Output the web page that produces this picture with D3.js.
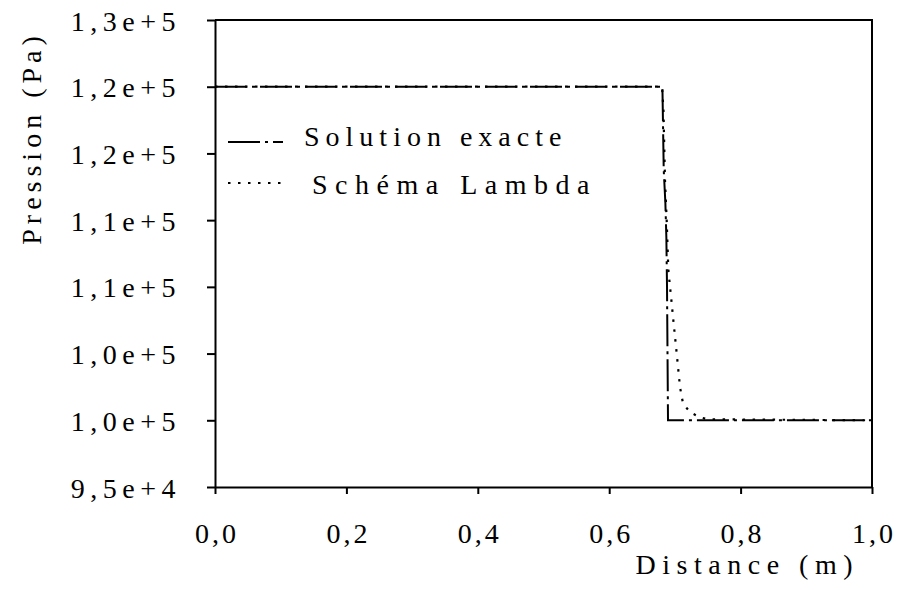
<!DOCTYPE html>
<html>
<head>
<meta charset="utf-8">
<script src="https://cdn.jsdelivr.net/npm/d3@7"></script>
<style>
  html, body { margin: 0; padding: 0; background: #fff; }
</style>
</head>
<body>
<svg id="chart" width="900" height="590"></svg>
<script>
// Pressure profile across the shock tube: exact solution vs. Lambda scheme
const exactX = [0.0, 0.681, 0.683, 0.6855, 0.687, 0.688, 0.6895, 1.0];
const exactP = [125000, 125000, 118750, 116300, 113700, 110000, 100000, 100000];

const lambdaX = [0.0, 0.6804, 0.6826, 0.6849, 0.6875, 0.690, 0.6951, 0.6976, 0.7027, 0.7078, 0.7123, 0.723, 0.7382, 0.7504, 1.0];
const lambdaP = [125000, 125000, 123250, 118000, 115000, 111250, 108775, 107500, 105025, 102475, 101275, 100600, 100225, 100075, 100000];

const xTicks = [0.0, 0.2, 0.4, 0.6, 0.8, 1.0];
const xTickLabels = ["0,0", "0,2", "0,4", "0,6", "0,8", "1,0"];
const yTicks = [95000, 100000, 105000, 110000, 115000, 120000, 125000, 130000];
const yTickLabels = ["9,5e+4", "1,0e+5", "1,0e+5", "1,1e+5", "1,1e+5", "1,2e+5", "1,2e+5", "1,3e+5"];

const seriesNames = ["Solution exacte", "Schéma Lambda"];

const FONT = "'Liberation Serif', 'Times New Roman', Times, 'DejaVu Serif', serif";

const svg = d3.select("#chart");
const plotL = 215, plotR = 872, plotT = 20, plotB = 487;

const x = d3.scaleLinear().domain([0, 1]).range([plotL, plotR]);
const y = d3.scaleLinear().domain([95000, 130000]).range([plotB, plotT]);

// frame (top and right edges)
svg.append("path")
  .attr("d", `M${plotL},${plotT}H${plotR}V${plotB}`)
  .attr("fill", "none").attr("stroke", "#000").attr("stroke-width", 2);

// y axis
const yAxis = svg.append("g")
  .attr("transform", `translate(${plotL},0)`)
  .call(d3.axisLeft(y).tickValues(yTicks).tickSize(8).tickSizeOuter(0)
    .tickFormat((d, i) => yTickLabels[i]));
yAxis.select(".domain").attr("stroke-width", 2);
yAxis.selectAll(".tick line").attr("stroke-width", 2);
yAxis.selectAll(".tick text")
  .attr("x", -34)
  .attr("dy", "0.36em")
  .style("letter-spacing", "5.5px");

// x axis
const xAxis = svg.append("g")
  .attr("transform", `translate(0,${plotB})`)
  .call(d3.axisBottom(x).tickValues(xTicks).tickSize(7).tickSizeOuter(0)
    .tickFormat((d, i) => xTickLabels[i]));
xAxis.select(".domain").attr("stroke-width", 2);
xAxis.selectAll(".tick line").attr("stroke-width", 2);
xAxis.selectAll(".tick text")
  .attr("y", 56)
  .attr("dy", 0)
  .attr("dx", 1.5)
  .style("letter-spacing", "3px");

// axis titles
svg.append("text")
  .attr("x", 859).attr("y", 574)
  .attr("text-anchor", "end")
  .style("letter-spacing", "6.5px")
  .text("Distance (m)");

svg.append("text")
  .attr("transform", "translate(41,138) rotate(-90)")
  .attr("text-anchor", "middle")
  .style("letter-spacing", "5px")
  .text("Pression (Pa)");

// curves
const line = d3.line().x(d => x(d[0])).y(d => y(d[1]));
const lambdaData = lambdaX.map((v, i) => [v, lambdaP[i]]);
const exactData = exactX.map((v, i) => [v, exactP[i]]);

const dashExact = "32,5,3,5";
const dashLambda = "2.5,7.5";

svg.append("path")
  .datum(lambdaData)
  .attr("d", line)
  .attr("fill", "none").attr("stroke", "#000")
  .attr("stroke-width", 2.2).attr("stroke-dasharray", dashLambda);

svg.append("path")
  .datum(exactData)
  .attr("d", line)
  .attr("fill", "none").attr("stroke", "#000")
  .attr("stroke-width", 2).attr("stroke-dasharray", dashExact);

// legend
const legend = svg.append("g");
const legendRows = [
  { name: seriesNames[0], dash: dashExact, ly: 142, tx: 304, ty: 146, ls: 6 },
  { name: seriesNames[1], dash: dashLambda, ly: 183, tx: 312, ty: 194, ls: 7.5 }
];
legendRows.forEach(r => {
  legend.append("line")
    .attr("x1", 228).attr("x2", 283).attr("y1", r.ly).attr("y2", r.ly)
    .attr("stroke", "#000").attr("stroke-width", 2)
    .attr("stroke-dasharray", r.dash);
  legend.append("text")
    .attr("x", r.tx).attr("y", r.ty)
    .style("letter-spacing", r.ls + "px")
    .text(r.name);
});

// shared typography for every label
svg.selectAll("g").attr("font-family", null).attr("font-size", null);
svg.selectAll("text")
  .style("font-family", FONT)
  .style("font-size", "28px")
  .style("fill", "#000");
</script>
</body>
</html>
